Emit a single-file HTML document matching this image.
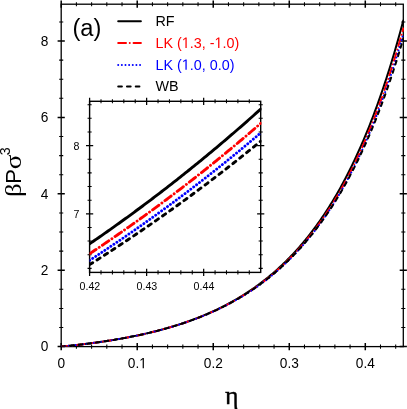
<!DOCTYPE html>
<html><head><meta charset="utf-8"><title>chart</title>
<style>html,body{margin:0;padding:0;background:#fff;overflow:hidden}svg{display:block;will-change:transform}text{font-kerning:none;white-space:pre}</style>
</head><body>
<svg width="407" height="409" viewBox="0 0 407 409">
<rect width="407" height="409" fill="#fff"/>
<defs><clipPath id="cm"><rect x="61.20" y="4.20" width="342.80" height="342.40"/></clipPath>
<clipPath id="ci"><rect x="89.60" y="101.30" width="171.85" height="171.10"/></clipPath></defs>
<g stroke="#000" fill="none">
<rect x="61.20" y="4.20" width="342.10" height="342.40" stroke-width="1.30"/>
<path d="M76.40 2.15 V6.25 M76.40 344.55 V348.65 M91.61 2.15 V6.25 M91.61 344.55 V348.65 M106.81 2.15 V6.25 M106.81 344.55 V348.65 M122.02 2.15 V6.25 M122.02 344.55 V348.65 M152.43 2.15 V6.25 M152.43 344.55 V348.65 M167.63 2.15 V6.25 M167.63 344.55 V348.65 M182.84 2.15 V6.25 M182.84 344.55 V348.65 M198.04 2.15 V6.25 M198.04 344.55 V348.65 M228.45 2.15 V6.25 M228.45 344.55 V348.65 M243.65 2.15 V6.25 M243.65 344.55 V348.65 M258.86 2.15 V6.25 M258.86 344.55 V348.65 M274.06 2.15 V6.25 M274.06 344.55 V348.65 M304.47 2.15 V6.25 M304.47 344.55 V348.65 M319.68 2.15 V6.25 M319.68 344.55 V348.65 M334.88 2.15 V6.25 M334.88 344.55 V348.65 M350.08 2.15 V6.25 M350.08 344.55 V348.65 M380.49 2.15 V6.25 M380.49 344.55 V348.65 M395.70 2.15 V6.25 M395.70 344.55 V348.65 M59.15 327.50 H63.25 M401.25 327.50 H405.35 M59.15 308.40 H63.25 M401.25 308.40 H405.35 M59.15 289.30 H63.25 M401.25 289.30 H405.35 M59.15 251.10 H63.25 M401.25 251.10 H405.35 M59.15 232.00 H63.25 M401.25 232.00 H405.35 M59.15 212.90 H63.25 M401.25 212.90 H405.35 M59.15 174.70 H63.25 M401.25 174.70 H405.35 M59.15 155.60 H63.25 M401.25 155.60 H405.35 M59.15 136.50 H63.25 M401.25 136.50 H405.35 M59.15 98.30 H63.25 M401.25 98.30 H405.35 M59.15 79.20 H63.25 M401.25 79.20 H405.35 M59.15 60.10 H63.25 M401.25 60.10 H405.35 M59.15 21.90 H63.25 M401.25 21.90 H405.35" stroke-width="1.05"/>
<path d="M61.20 0.60 V7.80 M61.20 343.00 V350.20 M137.22 0.60 V7.80 M137.22 343.00 V350.20 M213.24 0.60 V7.80 M213.24 343.00 V350.20 M289.27 0.60 V7.80 M289.27 343.00 V350.20 M365.29 0.60 V7.80 M365.29 343.00 V350.20 M57.60 346.60 H64.80 M399.70 346.60 H406.90 M57.60 270.20 H64.80 M399.70 270.20 H406.90 M57.60 193.80 H64.80 M399.70 193.80 H406.90 M57.60 117.40 H64.80 M399.70 117.40 H406.90 M57.60 41.00 H64.80 M399.70 41.00 H406.90" stroke-width="1.5"/>
</g>
<g clip-path="url(#cm)" fill="none" stroke-width="2.00" stroke-linecap="round" stroke-linejoin="round">
<path d="M61.20,346.60 L62.34,346.49 L63.48,346.38 L64.62,346.27 L65.76,346.15 L66.90,346.04 L68.04,345.92 L69.18,345.80 L70.32,345.68 L71.46,345.56 L72.60,345.44 L73.74,345.31 L74.88,345.19 L76.02,345.06 L77.16,344.93 L78.31,344.80 L79.45,344.67 L80.59,344.54 L81.73,344.40 L82.87,344.27 L84.01,344.13 L85.15,343.99 L86.29,343.85 L87.43,343.70 L88.57,343.56 L89.71,343.41 L90.85,343.26 L91.99,343.11 L93.13,342.96 L94.27,342.81 L95.41,342.65 L96.55,342.50 L97.69,342.34 L98.83,342.18 L99.97,342.01 L101.11,341.85 L102.25,341.68 L103.39,341.51 L104.53,341.34 L105.67,341.17 L106.81,340.99 L107.95,340.82 L109.09,340.64 L110.23,340.46 L111.37,340.27 L112.52,340.09 L113.66,339.90 L114.80,339.71 L115.94,339.52 L117.08,339.33 L118.22,339.13 L119.36,338.93 L120.50,338.73 L121.64,338.53 L122.78,338.32 L123.92,338.11 L125.06,337.90 L126.20,337.69 L127.34,337.47 L128.48,337.25 L129.62,337.03 L130.76,336.81 L131.90,336.58 L133.04,336.35 L134.18,336.12 L135.32,335.89 L136.46,335.65 L137.60,335.41 L138.74,335.17 L139.88,334.92 L141.02,334.67 L142.16,334.42 L143.30,334.17 L144.44,333.91 L145.58,333.65 L146.73,333.39 L147.87,333.12 L149.01,332.85 L150.15,332.58 L151.29,332.31 L152.43,332.03 L153.57,331.74 L154.71,331.46 L155.85,331.17 L156.99,330.88 L158.13,330.58 L159.27,330.28 L160.41,329.98 L161.55,329.67 L162.69,329.36 L163.83,329.05 L164.97,328.73 L166.11,328.41 L167.25,328.09 L168.39,327.76 L169.53,327.43 L170.67,327.09 L171.81,326.75 L172.95,326.41 L174.09,326.06 L175.23,325.71 L176.37,325.35 L177.51,324.99 L178.65,324.62 L179.79,324.26 L180.94,323.88 L182.08,323.50 L183.22,323.12 L184.36,322.74 L185.50,322.34 L186.64,321.95 L187.78,321.55 L188.92,321.14 L190.06,320.73 L191.20,320.32 L192.34,319.90 L193.48,319.47 L194.62,319.04 L195.76,318.61 L196.90,318.17 L198.04,317.72 L199.18,317.27 L200.32,316.82 L201.46,316.36 L202.60,315.89 L203.74,315.42 L204.88,314.94 L206.02,314.46 L207.16,313.97 L208.30,313.47 L209.44,312.97 L210.58,312.47 L211.72,311.95 L212.86,311.44 L214.00,310.91 L215.15,310.38 L216.29,309.84 L217.43,309.30 L218.57,308.75 L219.71,308.19 L220.85,307.63 L221.99,307.06 L223.13,306.48 L224.27,305.90 L225.41,305.31 L226.55,304.71 L227.69,304.11 L228.83,303.49 L229.97,302.88 L231.11,302.25 L232.25,301.62 L233.39,300.97 L234.53,300.32 L235.67,299.67 L236.81,299.00 L237.95,298.33 L239.09,297.65 L240.23,296.96 L241.37,296.26 L242.51,295.56 L243.65,294.84 L244.79,294.12 L245.93,293.39 L247.07,292.65 L248.21,291.90 L249.36,291.14 L250.50,290.37 L251.64,289.60 L252.78,288.81 L253.92,288.01 L255.06,287.21 L256.20,286.39 L257.34,285.57 L258.48,284.73 L259.62,283.89 L260.76,283.03 L261.90,282.17 L263.04,281.29 L264.18,280.41 L265.32,279.51 L266.46,278.60 L267.60,277.68 L268.74,276.75 L269.88,275.81 L271.02,274.86 L272.16,273.89 L273.30,272.91 L274.44,271.92 L275.58,270.92 L276.72,269.91 L277.86,268.88 L279.00,267.84 L280.14,266.79 L281.28,265.73 L282.42,264.65 L283.56,263.56 L284.71,262.46 L285.85,261.34 L286.99,260.21 L288.13,259.06 L289.27,257.90 L290.41,256.73 L291.55,255.54 L292.69,254.34 L293.83,253.12 L294.97,251.89 L296.11,250.64 L297.25,249.37 L298.39,248.09 L299.53,246.80 L300.67,245.48 L301.81,244.15 L302.95,242.81 L304.09,241.45 L305.23,240.07 L306.37,238.67 L307.51,237.26 L308.65,235.82 L309.79,234.37 L310.93,232.91 L312.07,231.42 L313.21,229.91 L314.35,228.39 L315.49,226.84 L316.63,225.28 L317.78,223.69 L318.92,222.09 L320.06,220.47 L321.20,218.82 L322.34,217.16 L323.48,215.47 L324.62,213.76 L325.76,212.03 L326.90,210.28 L328.04,208.50 L329.18,206.70 L330.32,204.88 L331.46,203.03 L332.60,201.17 L333.74,199.27 L334.88,197.36 L336.02,195.41 L337.16,193.45 L338.30,191.45 L339.44,189.43 L340.58,187.39 L341.72,185.32 L342.86,183.22 L344.00,181.09 L345.14,178.94 L346.28,176.76 L347.42,174.55 L348.56,172.31 L349.70,170.04 L350.84,167.74 L351.99,165.41 L353.13,163.05 L354.27,160.66 L355.41,158.23 L356.55,155.78 L357.69,153.29 L358.83,150.77 L359.97,148.22 L361.11,145.63 L362.25,143.00 L363.39,140.35 L364.53,137.65 L365.67,134.92 L366.81,132.16 L367.95,129.35 L369.09,126.51 L370.23,123.63 L371.37,120.71 L372.51,117.75 L373.65,114.76 L374.79,111.72 L375.93,108.64 L377.07,105.51 L378.21,102.35 L379.35,99.14 L380.49,95.89 L381.63,92.59 L382.77,89.25 L383.91,85.86 L385.05,82.43 L386.19,78.95 L387.34,75.42 L388.48,71.84 L389.62,68.21 L390.76,64.53 L391.90,60.80 L393.04,57.02 L394.18,53.19 L395.32,49.30 L396.46,45.36 L397.60,41.36 L398.74,37.31 L399.88,33.20 L401.02,29.03 L402.16,24.80 L403.30,20.52" stroke="#000" />
<path d="M61.20,346.60 L62.34,346.49 L63.48,346.38 L64.62,346.27 L65.76,346.15 L66.90,346.04 L68.04,345.92 L69.18,345.80 L70.32,345.68 L71.46,345.56 L72.60,345.44 L73.74,345.31 L74.88,345.19 L76.02,345.06 L77.16,344.93 L78.31,344.80 L79.45,344.67 L80.59,344.54 L81.73,344.40 L82.87,344.27 L84.01,344.13 L85.15,343.99 L86.29,343.85 L87.43,343.70 L88.57,343.56 L89.71,343.41 L90.85,343.27 L91.99,343.12 L93.13,342.96 L94.27,342.81 L95.41,342.65 L96.55,342.50 L97.69,342.34 L98.83,342.18 L99.97,342.02 L101.11,341.85 L102.25,341.68 L103.39,341.52 L104.53,341.35 L105.67,341.17 L106.81,341.00 L107.95,340.82 L109.09,340.64 L110.23,340.46 L111.37,340.28 L112.52,340.09 L113.66,339.91 L114.80,339.72 L115.94,339.53 L117.08,339.33 L118.22,339.14 L119.36,338.94 L120.50,338.74 L121.64,338.53 L122.78,338.33 L123.92,338.12 L125.06,337.91 L126.20,337.70 L127.34,337.48 L128.48,337.27 L129.62,337.05 L130.76,336.82 L131.90,336.60 L133.04,336.37 L134.18,336.14 L135.32,335.91 L136.46,335.67 L137.60,335.43 L138.74,335.19 L139.88,334.95 L141.02,334.70 L142.16,334.45 L143.30,334.20 L144.44,333.94 L145.58,333.68 L146.73,333.42 L147.87,333.15 L149.01,332.89 L150.15,332.62 L151.29,332.34 L152.43,332.06 L153.57,331.78 L154.71,331.50 L155.85,331.21 L156.99,330.92 L158.13,330.63 L159.27,330.33 L160.41,330.03 L161.55,329.73 L162.69,329.42 L163.83,329.11 L164.97,328.79 L166.11,328.47 L167.25,328.15 L168.39,327.82 L169.53,327.49 L170.67,327.16 L171.81,326.82 L172.95,326.48 L174.09,326.14 L175.23,325.79 L176.37,325.43 L177.51,325.08 L178.65,324.71 L179.79,324.35 L180.94,323.98 L182.08,323.60 L183.22,323.22 L184.36,322.84 L185.50,322.45 L186.64,322.06 L187.78,321.66 L188.92,321.26 L190.06,320.86 L191.20,320.45 L192.34,320.03 L193.48,319.61 L194.62,319.18 L195.76,318.75 L196.90,318.32 L198.04,317.88 L199.18,317.43 L200.32,316.98 L201.46,316.53 L202.60,316.06 L203.74,315.60 L204.88,315.13 L206.02,314.65 L207.16,314.16 L208.30,313.68 L209.44,313.18 L210.58,312.68 L211.72,312.17 L212.86,311.66 L214.00,311.14 L215.15,310.62 L216.29,310.09 L217.43,309.55 L218.57,309.01 L219.71,308.46 L220.85,307.90 L221.99,307.34 L223.13,306.77 L224.27,306.20 L225.41,305.61 L226.55,305.02 L227.69,304.43 L228.83,303.83 L229.97,303.21 L231.11,302.60 L232.25,301.97 L233.39,301.34 L234.53,300.70 L235.67,300.05 L236.81,299.40 L237.95,298.74 L239.09,298.06 L240.23,297.39 L241.37,296.70 L242.51,296.00 L243.65,295.30 L244.79,294.59 L245.93,293.87 L247.07,293.14 L248.21,292.41 L249.36,291.66 L250.50,290.90 L251.64,290.14 L252.78,289.37 L253.92,288.59 L255.06,287.79 L256.20,286.99 L257.34,286.18 L258.48,285.36 L259.62,284.53 L260.76,283.69 L261.90,282.84 L263.04,281.98 L264.18,281.11 L265.32,280.23 L266.46,279.34 L267.60,278.44 L268.74,277.52 L269.88,276.60 L271.02,275.66 L272.16,274.72 L273.30,273.76 L274.44,272.79 L275.58,271.81 L276.72,270.81 L277.86,269.81 L279.00,268.79 L280.14,267.76 L281.28,266.72 L282.42,265.66 L283.56,264.59 L284.71,263.51 L285.85,262.42 L286.99,261.31 L288.13,260.19 L289.27,259.05 L290.41,257.90 L291.55,256.74 L292.69,255.56 L293.83,254.37 L294.97,253.16 L296.11,251.94 L297.25,250.70 L298.39,249.45 L299.53,248.19 L300.67,246.90 L301.81,245.60 L302.95,244.29 L304.09,242.96 L305.23,241.61 L306.37,240.24 L307.51,238.86 L308.65,237.46 L309.79,236.05 L310.93,234.61 L312.07,233.16 L313.21,231.69 L314.35,230.20 L315.49,228.70 L316.63,227.17 L317.78,225.62 L318.92,224.06 L320.06,222.47 L321.20,220.87 L322.34,219.25 L323.48,217.60 L324.62,215.93 L325.76,214.25 L326.90,212.54 L328.04,210.81 L329.18,209.06 L330.32,207.28 L331.46,205.48 L332.60,203.66 L333.74,201.82 L334.88,199.95 L336.02,198.06 L337.16,196.15 L338.30,194.21 L339.44,192.24 L340.58,190.25 L341.72,188.24 L342.86,186.19 L344.00,184.13 L345.14,182.03 L346.28,179.91 L347.42,177.76 L348.56,175.58 L349.70,173.38 L350.84,171.14 L351.99,168.88 L353.13,166.58 L354.27,164.26 L355.41,161.91 L356.55,159.52 L357.69,157.10 L358.83,154.66 L359.97,152.18 L361.11,149.66 L362.25,147.12 L363.39,144.54 L364.53,141.92 L365.67,139.27 L366.81,136.59 L367.95,133.87 L369.09,131.11 L370.23,128.32 L371.37,125.49 L372.51,122.62 L373.65,119.71 L374.79,116.77 L375.93,113.78 L377.07,110.76 L378.21,107.69 L379.35,104.58 L380.49,101.43 L381.63,98.24 L382.77,95.00 L383.91,91.72 L385.05,88.39 L386.19,85.02 L387.34,81.61 L388.48,78.14 L389.62,74.63 L390.76,71.07 L391.90,67.46 L393.04,63.81 L394.18,60.10 L395.32,56.34 L396.46,52.52 L397.60,48.66 L398.74,44.74 L399.88,40.77 L401.02,36.74 L402.16,32.65 L403.30,28.51" stroke="#f00" stroke-dasharray="7.8 3.75 0.01 3.8"/>
<path d="M61.20,346.60 L62.34,346.49 L63.48,346.38 L64.62,346.27 L65.76,346.15 L66.90,346.04 L68.04,345.92 L69.18,345.80 L70.32,345.68 L71.46,345.56 L72.60,345.44 L73.74,345.31 L74.88,345.19 L76.02,345.06 L77.16,344.93 L78.31,344.80 L79.45,344.67 L80.59,344.54 L81.73,344.40 L82.87,344.27 L84.01,344.13 L85.15,343.99 L86.29,343.85 L87.43,343.70 L88.57,343.56 L89.71,343.41 L90.85,343.27 L91.99,343.12 L93.13,342.96 L94.27,342.81 L95.41,342.66 L96.55,342.50 L97.69,342.34 L98.83,342.18 L99.97,342.02 L101.11,341.85 L102.25,341.69 L103.39,341.52 L104.53,341.35 L105.67,341.18 L106.81,341.00 L107.95,340.82 L109.09,340.65 L110.23,340.47 L111.37,340.28 L112.52,340.10 L113.66,339.91 L114.80,339.72 L115.94,339.53 L117.08,339.34 L118.22,339.14 L119.36,338.94 L120.50,338.74 L121.64,338.54 L122.78,338.34 L123.92,338.13 L125.06,337.92 L126.20,337.71 L127.34,337.49 L128.48,337.28 L129.62,337.06 L130.76,336.83 L131.90,336.61 L133.04,336.38 L134.18,336.15 L135.32,335.92 L136.46,335.68 L137.60,335.45 L138.74,335.20 L139.88,334.96 L141.02,334.71 L142.16,334.46 L143.30,334.21 L144.44,333.96 L145.58,333.70 L146.73,333.44 L147.87,333.17 L149.01,332.91 L150.15,332.64 L151.29,332.36 L152.43,332.09 L153.57,331.81 L154.71,331.53 L155.85,331.24 L156.99,330.95 L158.13,330.66 L159.27,330.36 L160.41,330.06 L161.55,329.76 L162.69,329.45 L163.83,329.14 L164.97,328.83 L166.11,328.51 L167.25,328.19 L168.39,327.87 L169.53,327.54 L170.67,327.21 L171.81,326.87 L172.95,326.53 L174.09,326.19 L175.23,325.84 L176.37,325.49 L177.51,325.13 L178.65,324.77 L179.79,324.41 L180.94,324.04 L182.08,323.67 L183.22,323.29 L184.36,322.91 L185.50,322.53 L186.64,322.14 L187.78,321.74 L188.92,321.34 L190.06,320.94 L191.20,320.53 L192.34,320.12 L193.48,319.70 L194.62,319.28 L195.76,318.85 L196.90,318.42 L198.04,317.98 L199.18,317.54 L200.32,317.09 L201.46,316.64 L202.60,316.18 L203.74,315.72 L204.88,315.25 L206.02,314.77 L207.16,314.29 L208.30,313.81 L209.44,313.32 L210.58,312.82 L211.72,312.32 L212.86,311.81 L214.00,311.30 L215.15,310.78 L216.29,310.25 L217.43,309.72 L218.57,309.18 L219.71,308.64 L220.85,308.09 L221.99,307.53 L223.13,306.97 L224.27,306.39 L225.41,305.82 L226.55,305.23 L227.69,304.64 L228.83,304.05 L229.97,303.44 L231.11,302.83 L232.25,302.21 L233.39,301.58 L234.53,300.95 L235.67,300.31 L236.81,299.66 L237.95,299.01 L239.09,298.34 L240.23,297.67 L241.37,296.99 L242.51,296.30 L243.65,295.61 L244.79,294.90 L245.93,294.19 L247.07,293.47 L248.21,292.74 L249.36,292.01 L250.50,291.26 L251.64,290.50 L252.78,289.74 L253.92,288.97 L255.06,288.18 L256.20,287.39 L257.34,286.59 L258.48,285.78 L259.62,284.96 L260.76,284.13 L261.90,283.29 L263.04,282.44 L264.18,281.58 L265.32,280.71 L266.46,279.83 L267.60,278.94 L268.74,278.04 L269.88,277.13 L271.02,276.20 L272.16,275.27 L273.30,274.32 L274.44,273.36 L275.58,272.40 L276.72,271.42 L277.86,270.42 L279.00,269.42 L280.14,268.40 L281.28,267.37 L282.42,266.33 L283.56,265.28 L284.71,264.21 L285.85,263.13 L286.99,262.04 L288.13,260.94 L289.27,259.82 L290.41,258.69 L291.55,257.54 L292.69,256.38 L293.83,255.20 L294.97,254.01 L296.11,252.81 L297.25,251.59 L298.39,250.36 L299.53,249.11 L300.67,247.85 L301.81,246.57 L302.95,245.27 L304.09,243.96 L305.23,242.64 L306.37,241.29 L307.51,239.93 L308.65,238.56 L309.79,237.16 L310.93,235.75 L312.07,234.32 L313.21,232.88 L314.35,231.41 L315.49,229.93 L316.63,228.43 L317.78,226.91 L318.92,225.37 L320.06,223.81 L321.20,222.24 L322.34,220.64 L323.48,219.02 L324.62,217.38 L325.76,215.73 L326.90,214.05 L328.04,212.35 L329.18,210.63 L330.32,208.88 L331.46,207.12 L332.60,205.33 L333.74,203.52 L334.88,201.68 L336.02,199.83 L337.16,197.95 L338.30,196.04 L339.44,194.11 L340.58,192.16 L341.72,190.18 L342.86,188.18 L344.00,186.15 L345.14,184.09 L346.28,182.01 L347.42,179.90 L348.56,177.76 L349.70,175.60 L350.84,173.41 L351.99,171.19 L353.13,168.94 L354.27,166.66 L355.41,164.35 L356.55,162.01 L357.69,159.65 L358.83,157.25 L359.97,154.82 L361.11,152.35 L362.25,149.86 L363.39,147.33 L364.53,144.77 L365.67,142.17 L366.81,139.54 L367.95,136.88 L369.09,134.18 L370.23,131.44 L371.37,128.67 L372.51,125.86 L373.65,123.02 L374.79,120.13 L375.93,117.21 L377.07,114.25 L378.21,111.25 L379.35,108.21 L380.49,105.12 L381.63,102.00 L382.77,98.83 L383.91,95.62 L385.05,92.37 L386.19,89.07 L387.34,85.73 L388.48,82.35 L389.62,78.91 L390.76,75.43 L391.90,71.90 L393.04,68.33 L394.18,64.70 L395.32,61.03 L396.46,57.30 L397.60,53.52 L398.74,49.69 L399.88,45.81 L401.02,41.87 L402.16,37.88 L403.30,33.83" stroke="#00f" stroke-dasharray="0.01 3.63"/>
<path d="M61.20,346.60 L62.34,346.49 L63.48,346.38 L64.62,346.27 L65.76,346.15 L66.90,346.04 L68.04,345.92 L69.18,345.80 L70.32,345.68 L71.46,345.56 L72.60,345.44 L73.74,345.31 L74.88,345.19 L76.02,345.06 L77.16,344.93 L78.31,344.80 L79.45,344.67 L80.59,344.54 L81.73,344.40 L82.87,344.27 L84.01,344.13 L85.15,343.99 L86.29,343.85 L87.43,343.70 L88.57,343.56 L89.71,343.41 L90.85,343.26 L91.99,343.11 L93.13,342.96 L94.27,342.81 L95.41,342.65 L96.55,342.50 L97.69,342.34 L98.83,342.18 L99.97,342.01 L101.11,341.85 L102.25,341.68 L103.39,341.51 L104.53,341.34 L105.67,341.17 L106.81,341.00 L107.95,340.82 L109.09,340.64 L110.23,340.46 L111.37,340.28 L112.52,340.09 L113.66,339.90 L114.80,339.71 L115.94,339.52 L117.08,339.33 L118.22,339.13 L119.36,338.93 L120.50,338.73 L121.64,338.53 L122.78,338.32 L123.92,338.12 L125.06,337.91 L126.20,337.69 L127.34,337.48 L128.48,337.26 L129.62,337.04 L130.76,336.82 L131.90,336.59 L133.04,336.36 L134.18,336.13 L135.32,335.90 L136.46,335.66 L137.60,335.42 L138.74,335.18 L139.88,334.93 L141.02,334.69 L142.16,334.44 L143.30,334.18 L144.44,333.93 L145.58,333.67 L146.73,333.41 L147.87,333.14 L149.01,332.87 L150.15,332.60 L151.29,332.33 L152.43,332.05 L153.57,331.77 L154.71,331.48 L155.85,331.20 L156.99,330.91 L158.13,330.61 L159.27,330.31 L160.41,330.01 L161.55,329.71 L162.69,329.40 L163.83,329.09 L164.97,328.77 L166.11,328.45 L167.25,328.13 L168.39,327.81 L169.53,327.47 L170.67,327.14 L171.81,326.80 L172.95,326.46 L174.09,326.12 L175.23,325.77 L176.37,325.41 L177.51,325.06 L178.65,324.69 L179.79,324.33 L180.94,323.96 L182.08,323.58 L183.22,323.20 L184.36,322.82 L185.50,322.43 L186.64,322.04 L187.78,321.64 L188.92,321.24 L190.06,320.84 L191.20,320.43 L192.34,320.01 L193.48,319.59 L194.62,319.17 L195.76,318.74 L196.90,318.30 L198.04,317.86 L199.18,317.42 L200.32,316.97 L201.46,316.51 L202.60,316.05 L203.74,315.59 L204.88,315.12 L206.02,314.64 L207.16,314.16 L208.30,313.67 L209.44,313.18 L210.58,312.68 L211.72,312.17 L212.86,311.66 L214.00,311.14 L215.15,310.62 L216.29,310.09 L217.43,309.56 L218.57,309.02 L219.71,308.47 L220.85,307.92 L221.99,307.36 L223.13,306.79 L224.27,306.22 L225.41,305.64 L226.55,305.05 L227.69,304.46 L228.83,303.86 L229.97,303.25 L231.11,302.64 L232.25,302.02 L233.39,301.39 L234.53,300.75 L235.67,300.11 L236.81,299.46 L237.95,298.80 L239.09,298.14 L240.23,297.46 L241.37,296.78 L242.51,296.09 L243.65,295.39 L244.79,294.69 L245.93,293.97 L247.07,293.25 L248.21,292.52 L249.36,291.78 L250.50,291.03 L251.64,290.28 L252.78,289.51 L253.92,288.74 L255.06,287.96 L256.20,287.16 L257.34,286.36 L258.48,285.55 L259.62,284.73 L260.76,283.90 L261.90,283.06 L263.04,282.21 L264.18,281.35 L265.32,280.48 L266.46,279.60 L267.60,278.71 L268.74,277.81 L269.88,276.89 L271.02,275.97 L272.16,275.04 L273.30,274.09 L274.44,273.14 L275.58,272.17 L276.72,271.19 L277.86,270.20 L279.00,269.20 L280.14,268.18 L281.28,267.16 L282.42,266.12 L283.56,265.07 L284.71,264.01 L285.85,262.93 L286.99,261.84 L288.13,260.74 L289.27,259.63 L290.41,258.50 L291.55,257.36 L292.69,256.20 L293.83,255.03 L294.97,253.85 L296.11,252.65 L297.25,251.44 L298.39,250.21 L299.53,248.97 L300.67,247.72 L301.81,246.45 L302.95,245.16 L304.09,243.86 L305.23,242.54 L306.37,241.21 L307.51,239.86 L308.65,238.49 L309.79,237.11 L310.93,235.71 L312.07,234.29 L313.21,232.86 L314.35,231.41 L315.49,229.94 L316.63,228.45 L317.78,226.95 L318.92,225.43 L320.06,223.89 L321.20,222.32 L322.34,220.75 L323.48,219.15 L324.62,217.53 L325.76,215.89 L326.90,214.23 L328.04,212.55 L329.18,210.85 L330.32,209.13 L331.46,207.39 L332.60,205.62 L333.74,203.84 L334.88,202.03 L336.02,200.20 L337.16,198.35 L338.30,196.47 L339.44,194.57 L340.58,192.65 L341.72,190.70 L342.86,188.73 L344.00,186.73 L345.14,184.71 L346.28,182.67 L347.42,180.59 L348.56,178.50 L349.70,176.37 L350.84,174.22 L351.99,172.04 L353.13,169.83 L354.27,167.60 L355.41,165.34 L356.55,163.05 L357.69,160.73 L358.83,158.38 L359.97,156.00 L361.11,153.59 L362.25,151.15 L363.39,148.67 L364.53,146.17 L365.67,143.63 L366.81,141.07 L367.95,138.46 L369.09,135.83 L370.23,133.16 L371.37,130.46 L372.51,127.72 L373.65,124.94 L374.79,122.13 L375.93,119.29 L377.07,116.40 L378.21,113.48 L379.35,110.52 L380.49,107.53 L381.63,104.49 L382.77,101.41 L383.91,98.29 L385.05,95.13 L386.19,91.93 L387.34,88.69 L388.48,85.41 L389.62,82.08 L390.76,78.71 L391.90,75.29 L393.04,71.83 L394.18,68.32 L395.32,64.76 L396.46,61.16 L397.60,57.51 L398.74,53.80 L399.88,50.05 L401.02,46.25 L402.16,42.40 L403.30,38.50" stroke="#000" stroke-dasharray="3.7 5.07"/>
</g>
<rect x="89.60" y="101.30" width="171.10" height="171.10" fill="#fff"/>
<g stroke="#000" fill="none">
<rect x="89.60" y="101.30" width="171.10" height="171.10" stroke-width="1.4"/>
<path d="M101.01 99.25 V103.35 M101.01 270.35 V274.45 M112.41 99.25 V103.35 M112.41 270.35 V274.45 M123.82 99.25 V103.35 M123.82 270.35 V274.45 M135.23 99.25 V103.35 M135.23 270.35 V274.45 M158.04 99.25 V103.35 M158.04 270.35 V274.45 M169.45 99.25 V103.35 M169.45 270.35 V274.45 M180.85 99.25 V103.35 M180.85 270.35 V274.45 M192.26 99.25 V103.35 M192.26 270.35 V274.45 M215.07 99.25 V103.35 M215.07 270.35 V274.45 M226.48 99.25 V103.35 M226.48 270.35 V274.45 M237.89 99.25 V103.35 M237.89 270.35 V274.45 M249.29 99.25 V103.35 M249.29 270.35 V274.45 M87.55 268.36 H91.65 M258.65 268.36 H262.75 M87.55 254.72 H91.65 M258.65 254.72 H262.75 M87.55 241.08 H91.65 M258.65 241.08 H262.75 M87.55 227.44 H91.65 M258.65 227.44 H262.75 M87.55 200.16 H91.65 M258.65 200.16 H262.75 M87.55 186.52 H91.65 M258.65 186.52 H262.75 M87.55 172.88 H91.65 M258.65 172.88 H262.75 M87.55 159.24 H91.65 M258.65 159.24 H262.75 M87.55 131.96 H91.65 M258.65 131.96 H262.75 M87.55 118.32 H91.65 M258.65 118.32 H262.75 M87.55 104.68 H91.65 M258.65 104.68 H262.75" stroke-width="1.05"/>
<path d="M89.60 97.70 V104.90 M89.60 268.80 V276.00 M146.63 97.70 V104.90 M146.63 268.80 V276.00 M203.67 97.70 V104.90 M203.67 268.80 V276.00 M86.00 213.80 H93.20 M257.10 213.80 H264.30 M86.00 145.60 H93.20 M257.10 145.60 H264.30" stroke-width="1.25"/>
</g>
<g clip-path="url(#ci)" fill="none" stroke-width="2.90" stroke-linecap="round" stroke-linejoin="round">
<path d="M89.60,243.84 L91.31,242.67 L93.02,241.49 L94.73,240.31 L96.44,239.13 L98.16,237.95 L99.87,236.76 L101.58,235.57 L103.29,234.37 L105.00,233.17 L106.71,231.97 L108.42,230.77 L110.13,229.56 L111.84,228.35 L113.55,227.13 L115.27,225.92 L116.98,224.69 L118.69,223.47 L120.40,222.24 L122.11,221.01 L123.82,219.78 L125.53,218.54 L127.24,217.30 L128.95,216.05 L130.66,214.80 L132.38,213.55 L134.09,212.30 L135.80,211.04 L137.51,209.77 L139.22,208.51 L140.93,207.24 L142.64,205.97 L144.35,204.69 L146.06,203.41 L147.77,202.13 L149.49,200.84 L151.20,199.55 L152.91,198.26 L154.62,196.96 L156.33,195.66 L158.04,194.36 L159.75,193.05 L161.46,191.74 L163.17,190.42 L164.88,189.10 L166.60,187.78 L168.31,186.45 L170.02,185.12 L171.73,183.79 L173.44,182.45 L175.15,181.11 L176.86,179.77 L178.57,178.42 L180.28,177.06 L181.99,175.71 L183.71,174.35 L185.42,172.99 L187.13,171.62 L188.84,170.25 L190.55,168.87 L192.26,167.49 L193.97,166.11 L195.68,164.73 L197.39,163.33 L199.10,161.94 L200.82,160.54 L202.53,159.14 L204.24,157.74 L205.95,156.33 L207.66,154.91 L209.37,153.49 L211.08,152.07 L212.79,150.65 L214.50,149.22 L216.21,147.78 L217.93,146.35 L219.64,144.91 L221.35,143.46 L223.06,142.01 L224.77,140.56 L226.48,139.10 L228.19,137.64 L229.90,136.17 L231.61,134.70 L233.32,133.23 L235.04,131.75 L236.75,130.27 L238.46,128.78 L240.17,127.29 L241.88,125.80 L243.59,124.30 L245.30,122.79 L247.01,121.29 L248.72,119.78 L250.43,118.26 L252.15,116.74 L253.86,115.21 L255.57,113.69 L257.28,112.15 L258.99,110.62 L260.70,109.07" stroke="#000" />
<path d="M89.60,253.75 L91.31,252.61 L93.02,251.47 L94.73,250.33 L96.44,249.19 L98.16,248.04 L99.87,246.89 L101.58,245.73 L103.29,244.58 L105.00,243.41 L106.71,242.25 L108.42,241.08 L110.13,239.91 L111.84,238.74 L113.55,237.57 L115.27,236.39 L116.98,235.20 L118.69,234.02 L120.40,232.83 L122.11,231.64 L123.82,230.44 L125.53,229.24 L127.24,228.04 L128.95,226.83 L130.66,225.63 L132.38,224.41 L134.09,223.20 L135.80,221.98 L137.51,220.76 L139.22,219.53 L140.93,218.30 L142.64,217.07 L144.35,215.84 L146.06,214.60 L147.77,213.36 L149.49,212.11 L151.20,210.86 L152.91,209.61 L154.62,208.35 L156.33,207.10 L158.04,205.83 L159.75,204.57 L161.46,203.30 L163.17,202.02 L164.88,200.75 L166.60,199.47 L168.31,198.19 L170.02,196.90 L171.73,195.61 L173.44,194.31 L175.15,193.02 L176.86,191.72 L178.57,190.41 L180.28,189.10 L181.99,187.79 L183.71,186.48 L185.42,185.16 L187.13,183.83 L188.84,182.51 L190.55,181.18 L192.26,179.84 L193.97,178.51 L195.68,177.17 L197.39,175.82 L199.10,174.47 L200.82,173.12 L202.53,171.76 L204.24,170.41 L205.95,169.04 L207.66,167.67 L209.37,166.30 L211.08,164.93 L212.79,163.55 L214.50,162.17 L216.21,160.78 L217.93,159.39 L219.64,158.00 L221.35,156.60 L223.06,155.20 L224.77,153.79 L226.48,152.39 L228.19,150.97 L229.90,149.56 L231.61,148.13 L233.32,146.71 L235.04,145.28 L236.75,143.85 L238.46,142.41 L240.17,140.97 L241.88,139.52 L243.59,138.08 L245.30,136.62 L247.01,135.17 L248.72,133.70 L250.43,132.24 L252.15,130.77 L253.86,129.30 L255.57,127.82 L257.28,126.34 L258.99,124.85 L260.70,123.36" stroke="#f00" stroke-dasharray="7.8 3.75 0.01 3.8"/>
<path d="M89.60,260.35 L91.31,259.24 L93.02,258.13 L94.73,257.01 L96.44,255.89 L98.16,254.77 L99.87,253.64 L101.58,252.51 L103.29,251.38 L105.00,250.24 L106.71,249.10 L108.42,247.96 L110.13,246.82 L111.84,245.67 L113.55,244.52 L115.27,243.37 L116.98,242.21 L118.69,241.05 L120.40,239.89 L122.11,238.72 L123.82,237.55 L125.53,236.38 L127.24,235.20 L128.95,234.02 L130.66,232.84 L132.38,231.66 L134.09,230.47 L135.80,229.27 L137.51,228.08 L139.22,226.88 L140.93,225.68 L142.64,224.48 L144.35,223.27 L146.06,222.06 L147.77,220.84 L149.49,219.62 L151.20,218.40 L152.91,217.18 L154.62,215.95 L156.33,214.72 L158.04,213.48 L159.75,212.25 L161.46,211.01 L163.17,209.76 L164.88,208.51 L166.60,207.26 L168.31,206.01 L170.02,204.75 L171.73,203.49 L173.44,202.22 L175.15,200.95 L176.86,199.68 L178.57,198.41 L180.28,197.13 L181.99,195.85 L183.71,194.56 L185.42,193.27 L187.13,191.98 L188.84,190.68 L190.55,189.38 L192.26,188.08 L193.97,186.77 L195.68,185.46 L197.39,184.15 L199.10,182.83 L200.82,181.51 L202.53,180.18 L204.24,178.85 L205.95,177.52 L207.66,176.18 L209.37,174.84 L211.08,173.50 L212.79,172.15 L214.50,170.80 L216.21,169.45 L217.93,168.09 L219.64,166.73 L221.35,165.36 L223.06,163.99 L224.77,162.62 L226.48,161.24 L228.19,159.86 L229.90,158.48 L231.61,157.09 L233.32,155.70 L235.04,154.30 L236.75,152.90 L238.46,151.50 L240.17,150.09 L241.88,148.68 L243.59,147.26 L245.30,145.84 L247.01,144.42 L248.72,142.99 L250.43,141.56 L252.15,140.12 L253.86,138.69 L255.57,137.24 L257.28,135.80 L258.99,134.34 L260.70,132.89" stroke="#00f" stroke-dasharray="0.01 3.63"/>
<path d="M89.60,264.64 L91.31,263.56 L93.02,262.48 L94.73,261.39 L96.44,260.31 L98.16,259.21 L99.87,258.12 L101.58,257.02 L103.29,255.92 L105.00,254.82 L106.71,253.71 L108.42,252.60 L110.13,251.49 L111.84,250.38 L113.55,249.26 L115.27,248.14 L116.98,247.01 L118.69,245.89 L120.40,244.76 L122.11,243.63 L123.82,242.49 L125.53,241.35 L127.24,240.21 L128.95,239.07 L130.66,237.92 L132.38,236.77 L134.09,235.62 L135.80,234.46 L137.51,233.30 L139.22,232.14 L140.93,230.97 L142.64,229.80 L144.35,228.63 L146.06,227.46 L147.77,226.28 L149.49,225.10 L151.20,223.91 L152.91,222.73 L154.62,221.54 L156.33,220.34 L158.04,219.15 L159.75,217.95 L161.46,216.74 L163.17,215.54 L164.88,214.33 L166.60,213.12 L168.31,211.90 L170.02,210.68 L171.73,209.46 L173.44,208.23 L175.15,207.01 L176.86,205.77 L178.57,204.54 L180.28,203.30 L181.99,202.06 L183.71,200.81 L185.42,199.57 L187.13,198.31 L188.84,197.06 L190.55,195.80 L192.26,194.54 L193.97,193.28 L195.68,192.01 L197.39,190.74 L199.10,189.46 L200.82,188.18 L202.53,186.90 L204.24,185.62 L205.95,184.33 L207.66,183.03 L209.37,181.74 L211.08,180.44 L212.79,179.14 L214.50,177.83 L216.21,176.52 L217.93,175.21 L219.64,173.89 L221.35,172.57 L223.06,171.25 L224.77,169.92 L226.48,168.59 L228.19,167.26 L229.90,165.92 L231.61,164.58 L233.32,163.24 L235.04,161.89 L236.75,160.54 L238.46,159.18 L240.17,157.82 L241.88,156.46 L243.59,155.09 L245.30,153.72 L247.01,152.35 L248.72,150.97 L250.43,149.59 L252.15,148.20 L253.86,146.82 L255.57,145.42 L257.28,144.03 L258.99,142.63 L260.70,141.22" stroke="#000" stroke-dasharray="3.7 5.07"/>
</g>
<g fill="none" stroke-width="2" stroke-linecap="round">
<path d="M118.20 21.30 H140.90" stroke="#000" />
<path d="M118.20 43.00 H140.90" stroke="#f00" stroke-dasharray="7.8 3.75 0.01 3.8"/>
<path d="M118.20 65.00 H140.90" stroke="#00f" stroke-dasharray="0.01 3.63"/>
<path d="M118.20 86.50 H140.90" stroke="#000" stroke-dasharray="3.7 5.07"/>
</g>
<g font-family="Liberation Sans, sans-serif" font-size="14.35px">
<text transform="translate(155.50 26.40) scale(1 1.043)" fill="#000" text-anchor="start" >RF</text>
<text transform="translate(155.50 47.90) scale(1 1.043)" fill="#f00" >LK (</text><path transform="translate(181.82 47.90) scale(0.00701 -0.00731)" fill="#f00" stroke="none" d="M515 0V1237L197 1010V1180L530 1409H696V0Z"/><text transform="translate(189.80 47.90) scale(1 1.043)" fill="#f00" >.3, -</text><path transform="translate(214.52 47.90) scale(0.00701 -0.00731)" fill="#f00" stroke="none" d="M515 0V1237L197 1010V1180L530 1409H696V0Z"/><text transform="translate(222.50 47.90) scale(1 1.043)" fill="#f00" >.0)</text>
<text transform="translate(155.50 69.70) scale(1 1.043)" fill="#00f" >LK (</text><path transform="translate(181.82 69.70) scale(0.00701 -0.00731)" fill="#00f" stroke="none" d="M515 0V1237L197 1010V1180L530 1409H696V0Z"/><text transform="translate(189.80 69.70) scale(1 1.043)" fill="#00f" >.0, 0.0)</text>
<text transform="translate(155.50 91.30) scale(1 1.043)" fill="#000" text-anchor="start" >WB</text>
</g>
<text transform="translate(72.40 35.80) scale(1 1.045)" fill="#000" text-anchor="start" font-family="Liberation Sans, sans-serif" font-size="23.7px">(a)</text>
<g font-family="Liberation Sans, sans-serif" font-size="13.7px">
<text transform="translate(48.40 351.45) scale(1 1.080)" fill="#000" text-anchor="end" >0</text>
<text transform="translate(48.40 275.35) scale(1 1.080)" fill="#000" text-anchor="end" >2</text>
<text transform="translate(48.40 198.95) scale(1 1.080)" fill="#000" text-anchor="end" >4</text>
<text transform="translate(48.40 121.85) scale(1 1.080)" fill="#000" text-anchor="end" >6</text>
<text transform="translate(48.40 46.15) scale(1 1.080)" fill="#000" text-anchor="end" >8</text>
<text transform="translate(61.30 368.20) scale(1 1.080)" fill="#000" text-anchor="middle" >0</text>
<text transform="translate(127.80 368.20) scale(1 1.080)" fill="#000" >0.</text><path transform="translate(139.23 368.20) scale(0.00669 -0.00722)" fill="#000" stroke="none" d="M515 0V1237L197 1010V1180L530 1409H696V0Z"/>
<text transform="translate(213.34 368.20) scale(1 1.080)" fill="#000" text-anchor="middle" >0.2</text>
<text transform="translate(289.37 368.20) scale(1 1.080)" fill="#000" text-anchor="middle" >0.3</text>
<text transform="translate(365.39 368.20) scale(1 1.080)" fill="#000" text-anchor="middle" >0.4</text>
</g>
<g font-family="Liberation Sans, sans-serif" font-size="10.65px">
<text transform="translate(79.50 217.65) scale(1 1.043)" fill="#000" text-anchor="end" >7</text>
<text transform="translate(79.50 150.30) scale(1 1.043)" fill="#000" text-anchor="end" >8</text>
<text transform="translate(89.90 289.80) scale(1 1.043)" fill="#000" text-anchor="middle" >0.42</text>
<text transform="translate(146.93 289.80) scale(1 1.043)" fill="#000" text-anchor="middle" >0.43</text>
<text transform="translate(203.97 289.80) scale(1 1.043)" fill="#000" text-anchor="middle" >0.44</text>
</g>
<text transform="translate(224.9 404.2) scale(1.12 1.085)" font-family="Liberation Serif, serif" font-size="23px" stroke="#000" stroke-width="0.35">η</text>
<text transform="translate(20.70 196.90) rotate(-90) scale(1.220 1.050)" font-family="Liberation Serif, serif" font-size="22.00px">β</text>
<text transform="translate(20.70 183.80) rotate(-90) scale(1.000 1.010)" font-family="Liberation Sans, sans-serif" font-size="22.00px">P</text>
<text transform="translate(20.90 169.20) rotate(-90) scale(1.240 1.030)" font-family="Liberation Serif, serif" font-size="22.00px">σ</text>
<text transform="translate(10.20 155.20) rotate(-90) scale(1.000 1.000)" font-family="Liberation Sans, sans-serif" font-size="14.30px">3</text>
</svg>
</body></html>
